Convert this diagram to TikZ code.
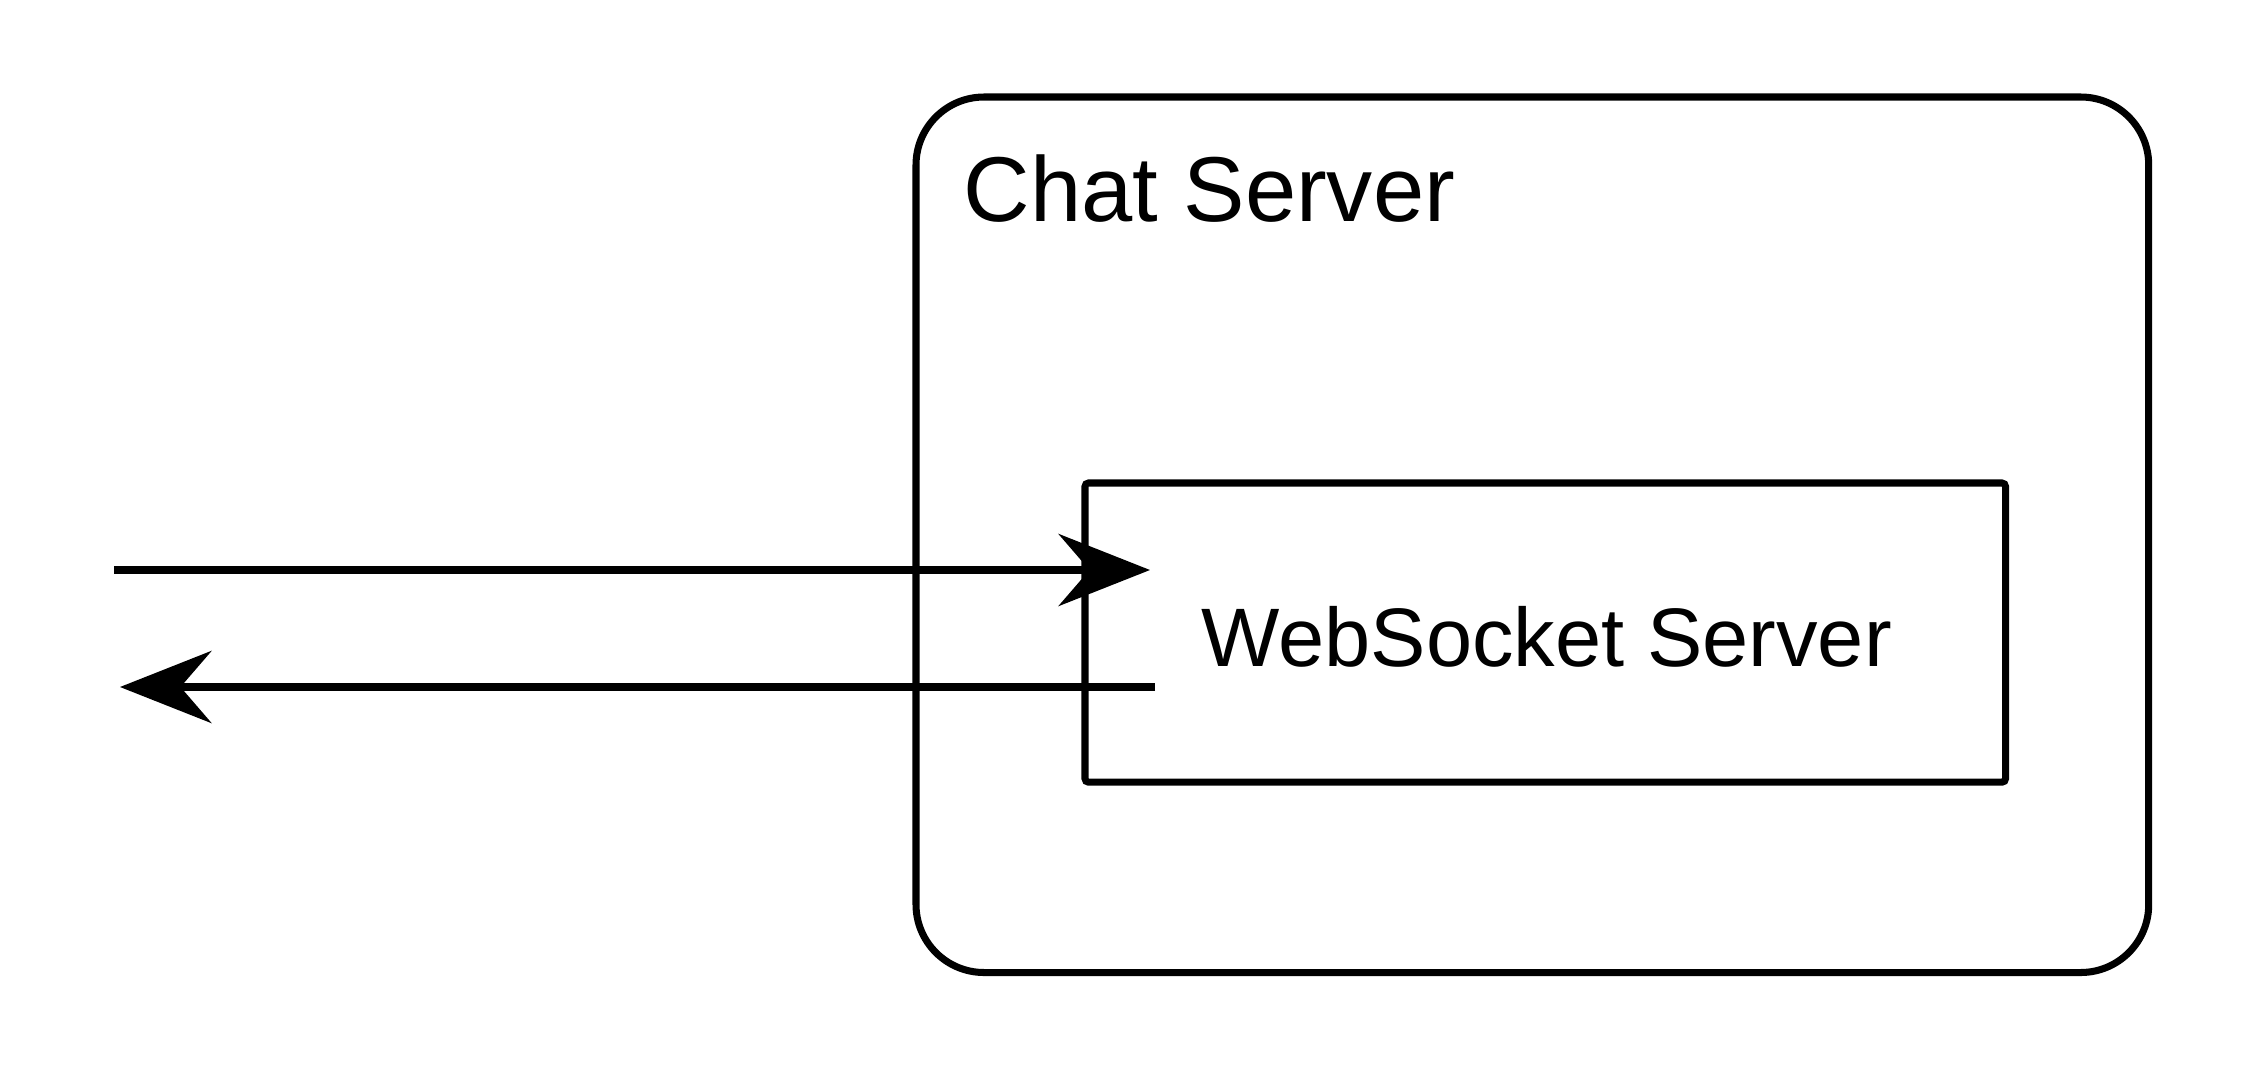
\documentclass[tikz,border=0pt]{standalone}
\usepackage{fontspec}
\setmainfont{Liberation Sans}
\usetikzlibrary{arrows.meta,positioning}

\begin{document}
\begin{tikzpicture}[x=0.01cm,y=-0.01cm,line width=2pt,
	box/.style={draw,inner sep=0pt,outer sep=0pt,anchor=north west},
	label/.style={inner sep=0pt,anchor=base west},
	tip/.style={-{Stealth[length=26pt,width=20.5pt,inset=8.8pt]}}]
	\useasboundingbox (0,0) rectangle (2241,1066);
	\node[box,rounded corners=0.68cm,minimum width=12.32cm,minimum height=8.75cm] (chat) at (916,97) {};
	\node[box,rounded corners=1pt,minimum width=9.2cm,minimum height=2.99cm] (ws) at (1085,483) {};
	\node[label,font=\fontsize{26.2pt}{31pt}\selectfont] (chatlabel) at (960,221) {Chat Server};
	\node[label,font=\fontsize{23.6pt}{28pt}\selectfont] (wslabel) at (1198,666) {WebSocket Server};
	\coordinate (client in) at (114,570);
	\coordinate (ws in) at (1150,570);
	\coordinate (ws out) at (1155,687);
	\coordinate (client out) at (120,687);
	\draw[tip] (client in) -- (ws in);
	\draw[tip] (ws out) -- (client out);
\end{tikzpicture}
\end{document}
